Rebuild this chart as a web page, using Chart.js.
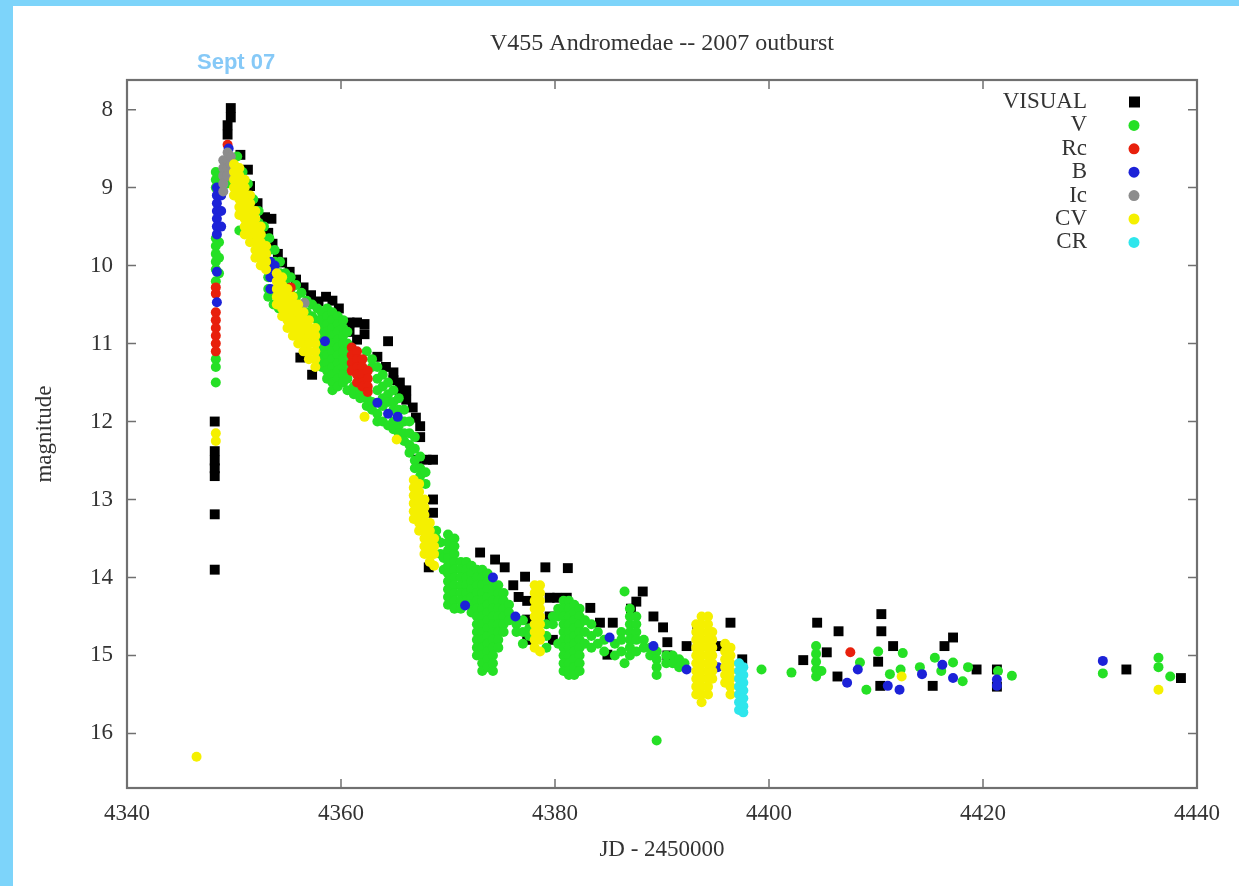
<!DOCTYPE html>
<html>
<head>
<meta charset="utf-8">
<script src="https://cdn.jsdelivr.net/npm/chart.js@4.4.0/dist/chart.umd.min.js"></script>
<style>
    body { margin: 0; background: #7dd4fa; overflow: hidden; }
    #sheet { position: absolute; left: 13px; top: 6px; width: 1226px; height: 880px; background: #fff; }
    #note { position: absolute; left: 197px; top: 49px; font: bold 22px "Liberation Sans", Arial, sans-serif; color: #86c9f7; }
</style>
</head>
<body>
<div id="sheet"><canvas id="lightCurve" width="1226" height="880"></canvas></div>
<div id="note">Sept 07</div>
<script>
// each row: [JD - 2450000, magnitude, magnitude, ...]
const visual = [
    [4348.2, 12.0, 12.38, 12.5, 12.6, 12.7, 13.19, 13.9],
    [4349.7, 7.98, 8.1], [4349.4, 8.2, 8.32],
    [4350.6, 8.58], [4351.3, 8.77], [4351.5, 8.98], [4352.2, 9.2], [4352.9, 9.38], [4353.5, 9.4],
    [4353.2, 9.58], [4353.6, 9.72], [4354.1, 9.85], [4354.5, 9.96], [4355.2, 10.08], [4355.8, 10.18],
    [4356.5, 10.28], [4357.2, 10.38], [4357.9, 10.46], [4358.6, 10.4], [4359.2, 10.45], [4359.8, 10.55],
    [4356.2, 11.18], [4357.3, 11.4],
    [4360.8, 10.73, 10.85], [4361.5, 10.73, 10.95], [4362.2, 10.75, 10.88], [4364.4, 10.97],
    [4363.4, 11.17], [4364.2, 11.3], [4364.9, 11.37, 11.47], [4365.5, 11.5, 11.6], [4366.1, 11.6, 11.72],
    [4366.7, 11.82], [4367.0, 11.95], [4367.4, 12.06, 12.2], [4367.1, 12.49], [4368.0, 12.49],
    [4368.6, 12.49, 13.0, 13.17], [4368.2, 13.87],
    [4373.0, 13.68], [4374.4, 13.77], [4375.3, 13.87], [4376.1, 14.1], [4376.6, 14.25], [4377.2, 13.99],
    [4379.1, 13.87], [4381.2, 13.88], [4377.4, 14.3, 14.54, 14.8], [4379.5, 14.26, 14.5], [4380.2, 14.26],
    [4381.1, 14.26], [4383.3, 14.39], [4384.2, 14.58], [4385.4, 14.58], [4388.2, 14.18], [4387.6, 14.31],
    [4387.1, 14.4], [4389.2, 14.5], [4390.1, 14.64], [4390.5, 14.83, 15.0], [4393.3, 14.67], [4392.3, 14.88],
    [4396.4, 14.58], [4395.4, 14.88], [4397.5, 15.05], [4384.9, 14.99], [4379.8, 14.8],
    [4403.2, 15.06], [4404.5, 14.58], [4405.4, 14.96], [4406.5, 14.69], [4406.4, 15.27], [4410.5, 14.47, 14.69],
    [4410.2, 15.08], [4411.6, 14.88], [4410.4, 15.39], [4415.3, 15.39], [4416.4, 14.88], [4417.2, 14.77],
    [4419.4, 15.18], [4421.3, 15.18, 15.4], [4433.4, 15.18], [4438.5, 15.29]
];
const vBand = [
    [4348.3, 8.8, 8.9, 9.0, 9.65, 9.75, 9.85, 9.95, 10.05, 10.2, 11.2, 11.3, 11.5],
    [4348.6, 8.85, 9.0, 9.7, 9.9, 10.1], [4349.3, 8.75, 8.85, 8.95],
    [4350.3, 8.6, 8.75], [4350.8, 8.8, 8.95], [4351.3, 8.95, 9.1], [4351.8, 9.15, 9.3], [4352.3, 9.3, 9.45],
    [4352.8, 9.5, 9.65], [4353.3, 9.65, 9.8], [4353.8, 9.8, 9.95], [4354.3, 9.95, 10.1], [4354.8, 10.1, 10.2],
    [4355.3, 10.15, 10.3], [4355.8, 10.25, 10.4], [4356.3, 10.35, 10.5], [4356.8, 10.45, 10.6],
    [4357.3, 10.5, 10.65], [4357.8, 10.55, 10.7],
    [4350.5, 9.55], [4353.2, 10.15, 10.3, 10.4], [4353.7, 10.35, 10.5], [4354.2, 10.55],
    [4358.2, 10.6, 10.7, 10.8, 10.9, 11.0, 11.1, 11.2, 11.3],
    [4358.7, 10.55, 10.65, 10.75, 10.85, 10.95, 11.05, 11.15, 11.25, 11.35, 11.45],
    [4359.2, 10.6, 10.7, 10.8, 10.9, 11.0, 11.1, 11.2, 11.3, 11.4, 11.5, 11.6],
    [4359.7, 10.65, 10.75, 10.85, 10.95, 11.05, 11.15, 11.25, 11.35, 11.45, 11.55],
    [4360.2, 10.7, 10.8, 10.9, 11.0, 11.1, 11.2, 11.3, 11.4, 11.5],
    [4360.6, 10.85, 11.0, 11.15, 11.3, 11.45, 11.6],
    [4361.2, 11.55, 11.65], [4361.8, 11.6, 11.7], [4362.4, 11.1, 11.7, 11.8], [4362.9, 11.2, 11.3, 11.75, 11.85],
    [4363.4, 11.3, 11.45, 11.6, 11.9, 12.0], [4363.9, 11.4, 11.55, 11.7, 11.8, 12.0],
    [4364.4, 11.5, 11.65, 11.75, 12.05], [4364.9, 11.6, 11.75, 11.85, 12.0, 12.1],
    [4365.4, 11.7, 11.85, 12.05, 12.15], [4365.9, 11.85, 12.0, 12.15, 12.25], [4366.4, 12.0, 12.15, 12.3, 12.4],
    [4366.9, 12.2, 12.35, 12.5, 12.6], [4367.4, 12.45, 12.6, 12.7], [4367.9, 12.65, 12.8],
    [4368.9, 13.4, 13.5], [4369.3, 13.55, 13.7], [4369.6, 13.75, 13.9],
    [4370.0, 13.45, 13.55, 13.65, 13.75, 13.85, 13.95, 14.05, 14.15, 14.25, 14.35],
    [4370.6, 13.5, 13.6, 13.7, 13.8, 13.9, 14.0, 14.1, 14.2, 14.3, 14.4],
    [4371.2, 13.8, 13.9, 14.0, 14.1, 14.2, 14.3, 14.4],
    [4371.7, 13.8, 13.9, 14.0, 14.1, 14.2, 14.3],
    [4372.2, 13.85, 13.95, 14.05, 14.15, 14.25, 14.35, 14.45],
    [4372.7, 13.9, 14.0, 14.1, 14.2, 14.3, 14.4, 14.5, 14.6, 14.7, 14.8, 14.9, 15.0],
    [4373.2, 13.9, 14.0, 14.1, 14.2, 14.3, 14.4, 14.5, 14.6, 14.7, 14.8, 14.9, 15.0, 15.1, 15.2],
    [4373.7, 13.95, 14.05, 14.15, 14.25, 14.35, 14.45, 14.55, 14.65, 14.75, 14.85, 14.95, 15.05, 15.15],
    [4374.2, 14.1, 14.2, 14.3, 14.4, 14.5, 14.6, 14.7, 14.8, 14.9, 15.0, 15.1, 15.2],
    [4374.7, 14.1, 14.2, 14.3, 14.4, 14.5, 14.6, 14.7, 14.8, 14.9],
    [4375.2, 14.2, 14.3, 14.4, 14.5, 14.6, 14.7], [4375.7, 14.35, 14.45, 14.55],
    [4376.4, 14.6, 14.7], [4377.0, 14.55, 14.7, 14.85], [4377.6, 14.65, 14.75],
    [4379.2, 14.6, 14.75, 14.9], [4379.8, 14.5, 14.6], [4380.3, 14.4, 14.5, 14.85],
    [4380.8, 14.3, 14.4, 14.5, 14.6, 14.7, 14.8, 14.9, 15.0, 15.1, 15.2],
    [4381.3, 14.3, 14.4, 14.5, 14.6, 14.7, 14.8, 14.9, 15.0, 15.1, 15.2, 15.25],
    [4381.8, 14.35, 14.45, 14.55, 14.65, 14.75, 14.85, 14.95, 15.05, 15.15, 15.25],
    [4382.3, 14.4, 14.5, 14.6, 14.7, 14.8, 14.9, 15.0, 15.1, 15.2],
    [4382.8, 14.55, 14.7, 14.85], [4383.4, 14.6, 14.75, 14.9], [4384.0, 14.7, 14.85], [4384.6, 14.8, 14.95],
    [4385.6, 14.85, 15.0], [4386.2, 14.7, 14.8, 14.95], [4386.5, 14.18, 15.1],
    [4387.0, 14.4, 14.5, 14.6, 14.7, 14.8, 14.9, 15.0], [4387.6, 14.5, 14.6, 14.7, 14.8, 14.95],
    [4388.3, 14.8, 14.9], [4388.9, 14.9, 15.0], [4389.5, 14.95, 15.05, 15.15, 15.25, 16.09],
    [4390.4, 15.0, 15.1], [4391.0, 15.0, 15.1], [4391.6, 15.05, 15.15], [4392.1, 15.1],
    [4399.3, 15.18], [4402.1, 15.22], [4404.4, 14.88, 14.98, 15.08, 15.18, 15.27], [4404.9, 15.2],
    [4408.5, 15.09], [4409.1, 15.44], [4410.2, 14.95], [4412.5, 14.97], [4411.3, 15.24], [4412.3, 15.18],
    [4414.1, 15.15], [4415.5, 15.03], [4416.1, 15.2], [4417.2, 15.09], [4418.1, 15.33], [4418.6, 15.15],
    [4421.4, 15.2], [4422.7, 15.26], [4431.2, 15.23], [4436.4, 15.03, 15.15], [4437.5, 15.27]
];
const rcBand = [
    [4348.3, 10.28, 10.36, 10.6, 10.7, 10.8, 10.9, 11.0, 11.1], [4349.4, 8.45], [4355.3, 10.28],
    [4361.0, 11.05, 11.15, 11.25, 11.35], [4361.5, 11.1, 11.2, 11.3, 11.4, 11.5],
    [4362.0, 11.2, 11.3, 11.4, 11.5, 11.55], [4362.5, 11.35, 11.45, 11.55, 11.62], [4407.6, 14.96]
];
const bBand = [
    [4348.4, 9.0, 9.1, 9.2, 9.3, 9.4, 9.5, 9.6, 10.08, 10.47], [4348.8, 9.1, 9.3, 9.5], [4349.5, 8.5],
    [4353.4, 9.95, 10.05, 10.15, 10.3], [4353.8, 10.0], [4358.5, 10.97], [4363.4, 11.76], [4364.4, 11.9],
    [4365.3, 11.94], [4371.6, 14.36], [4374.2, 14.0], [4376.3, 14.5], [4385.1, 14.77], [4389.2, 14.88],
    [4392.3, 15.18], [4395.2, 15.15], [4407.3, 15.35], [4408.3, 15.18], [4411.1, 15.39], [4412.2, 15.44],
    [4414.3, 15.24], [4416.2, 15.12], [4417.2, 15.29], [4421.3, 15.31, 15.39], [4431.2, 15.07]
];
const icBand = [
    [4349.0, 8.65, 8.75, 8.85, 8.95, 9.05], [4349.4, 8.55, 8.65, 8.75, 8.85], [4349.7, 8.6, 8.7], [4356.6, 10.48]
];
const cvBand = [
    [4346.5, 16.3], [4348.3, 12.15, 12.25],
    [4350.0, 8.7, 8.8, 8.9, 9.0, 9.1], [4350.5, 8.75, 8.85, 8.95, 9.05, 9.15, 9.25, 9.35],
    [4351.0, 8.9, 9.0, 9.1, 9.2, 9.3, 9.4, 9.5, 9.6], [4351.5, 9.1, 9.2, 9.3, 9.4, 9.5, 9.6, 9.7],
    [4352.0, 9.3, 9.4, 9.5, 9.6, 9.7, 9.8, 9.9], [4352.5, 9.5, 9.6, 9.7, 9.8, 9.9, 10.0],
    [4353.0, 9.75, 9.85, 9.95, 10.05], [4354.0, 10.1, 10.2, 10.3, 10.4, 10.5],
    [4354.5, 10.15, 10.25, 10.35, 10.45, 10.55, 10.65], [4355.0, 10.3, 10.4, 10.5, 10.6, 10.7, 10.8],
    [4355.5, 10.4, 10.5, 10.6, 10.7, 10.8, 10.9], [4356.0, 10.5, 10.6, 10.7, 10.8, 10.9, 11.0],
    [4356.5, 10.6, 10.7, 10.8, 10.9, 11.0, 11.1], [4357.0, 10.7, 10.8, 10.9, 11.0, 11.1, 11.2],
    [4357.6, 10.8, 10.9, 11.0, 11.1, 11.2, 11.3], [4362.2, 11.94], [4365.2, 12.23],
    [4366.8, 12.75, 12.85, 12.95, 13.05, 13.15, 13.25], [4367.3, 12.8, 12.9, 13.0, 13.1, 13.2, 13.3, 13.4],
    [4367.8, 13.0, 13.1, 13.2, 13.3, 13.4, 13.5, 13.6, 13.7], [4368.3, 13.3, 13.4, 13.5, 13.6, 13.7, 13.8],
    [4368.7, 13.5, 13.6, 13.7, 13.85],
    [4378.1, 14.1, 14.2, 14.3, 14.4, 14.5, 14.6, 14.7, 14.8, 14.9],
    [4378.6, 14.1, 14.2, 14.3, 14.4, 14.5, 14.6, 14.7, 14.8, 14.95],
    [4393.2, 14.6, 14.7, 14.8, 14.9, 15.0, 15.1, 15.2, 15.3, 15.4, 15.5],
    [4393.7, 14.5, 14.6, 14.7, 14.8, 14.9, 15.0, 15.1, 15.2, 15.3, 15.4, 15.5, 15.6],
    [4394.3, 14.5, 14.6, 14.7, 14.8, 14.9, 15.0, 15.1, 15.2, 15.3, 15.4, 15.5],
    [4394.7, 14.7, 14.8, 14.9, 15.0, 15.1, 15.2, 15.3],
    [4395.9, 14.85, 14.95, 15.05, 15.15, 15.25, 15.35], [4396.4, 14.9, 15.0, 15.1, 15.2, 15.3, 15.4, 15.5],
    [4412.4, 15.27], [4436.4, 15.44]
];
const crBand = [
    [4397.2, 15.1, 15.2, 15.3, 15.4, 15.5, 15.6, 15.7],
    [4397.6, 15.15, 15.25, 15.35, 15.45, 15.55, 15.65, 15.73]
];

const seriesNames = ['VISUAL', 'V', 'Rc', 'B', 'Ic', 'CV', 'CR'];
const seriesColors = ['#000000', '#25e025', '#e8200c', '#1c22d8', '#8c8c8c', '#f5f000', '#2ee6ec'];
const xTicks = [4340, 4360, 4380, 4400, 4420, 4440];
const yTicks = [8, 9, 10, 11, 12, 13, 14, 15, 16];
const chartTitle = 'V455 Andromedae -- 2007 outburst';

const serif = '"Liberation Serif", "Times New Roman", serif';

function toPoints(rows) {
    return rows.flatMap(([x, ...mags]) => mags.map(y => ({ x: x, y: y })));
}

const allBands = [visual, vBand, rcBand, bBand, icBand, cvBand, crBand];
const datasets = allBands.map((rows, i) => ({
    label: seriesNames[i],
    data: toPoints(rows),
    pointStyle: i === 0 ? 'rect' : 'circle',
    pointRadius: i === 0 ? 7 : 5,
    backgroundColor: seriesColors[i],
    borderWidth: 0,
    order: allBands.length - i   // later series on top, like gnuplot
}));

// box with inward ticks on all four sides, title centred over the box
const framePlugin = {
    id: 'frame',
    beforeDatasetsDraw(chart) {
        const { ctx, chartArea: a, scales } = chart;
        ctx.save();
        ctx.strokeStyle = '#707070';
        ctx.lineWidth = 1.5;
        ctx.beginPath();
        xTicks.forEach(v => {
            const px = scales.x.getPixelForValue(v);
            ctx.moveTo(px, a.bottom); ctx.lineTo(px, a.bottom - 9);
            ctx.moveTo(px, a.top); ctx.lineTo(px, a.top + 9);
        });
        yTicks.forEach(v => {
            const py = scales.y.getPixelForValue(v);
            ctx.moveTo(a.left, py); ctx.lineTo(a.left + 9, py);
            ctx.moveTo(a.right, py); ctx.lineTo(a.right - 9, py);
        });
        ctx.stroke();
        ctx.lineWidth = 2.2;
        ctx.strokeRect(a.left, a.top, a.right - a.left, a.bottom - a.top);

        ctx.fillStyle = '#333';
        ctx.font = '24px ' + serif;
        ctx.textAlign = 'center';
        ctx.textBaseline = 'middle';
        ctx.fillText(chartTitle, (a.left + a.right) / 2, 38);
        ctx.restore();
    }
};

// gnuplot-like key: label right aligned, symbol to its right
const keyPlugin = {
    id: 'key',
    afterDatasetsDraw(chart) {
        const ctx = chart.ctx;
        ctx.save();
        ctx.font = '23px ' + serif;
        ctx.textAlign = 'right';
        ctx.textBaseline = 'middle';
        chart.data.datasets.forEach((ds, i) => {
            const y = 96 + i * 23.4;
            ctx.fillStyle = '#333';
            ctx.fillText(ds.label, 1074, y);
            ctx.fillStyle = ds.backgroundColor;
            ctx.beginPath();
            if (ds.pointStyle === 'rect') ctx.rect(1116, y - 5.5, 11, 11);
            else ctx.arc(1121, y, 5.5, 0, Math.PI * 2);
            ctx.fill();
        });
        ctx.restore();
    }
};

new Chart(document.getElementById('lightCurve'), {
    type: 'scatter',
    data: { datasets: datasets },
    options: {
        responsive: false,
        animation: false,
        layout: { padding: { left: 0, right: 42, top: 74, bottom: 0 } },
        plugins: {
            legend: { display: false },
            tooltip: { enabled: false }
        },
        scales: {
            x: {
                type: 'linear',
                min: 4340,
                max: 4440,
                afterFit: s => { s.height = 98; },
                afterBuildTicks: s => { s.ticks = xTicks.map(v => ({ value: v })); },
                grid: { display: false, drawTicks: false },
                border: { display: false },
                ticks: {
                    color: '#333',
                    padding: 11.8,
                    font: { family: serif, size: 23 },
                    callback: v => String(v)
                },
                title: {
                    display: true,
                    text: 'JD - 2450000',
                    color: '#333',
                    font: { family: serif, size: 23 },
                    padding: { top: 0, bottom: 22.2 }
                }
            },
            y: {
                type: 'linear',
                reverse: true,
                min: 7.62,
                max: 16.7,
                afterFit: s => { s.width = 114; },
                afterBuildTicks: s => { s.ticks = yTicks.map(v => ({ value: v })); },
                grid: { display: false, drawTicks: false },
                border: { display: false },
                ticks: { color: '#333', padding: 14, font: { family: serif, size: 23 } },
                title: {
                    display: true,
                    text: 'magnitude',
                    color: '#333',
                    font: { family: serif, size: 23 },
                    padding: { top: 18.2, bottom: 0 }
                }
            }
        }
    },
    plugins: [framePlugin, keyPlugin]
});
</script>
</body>
</html>
